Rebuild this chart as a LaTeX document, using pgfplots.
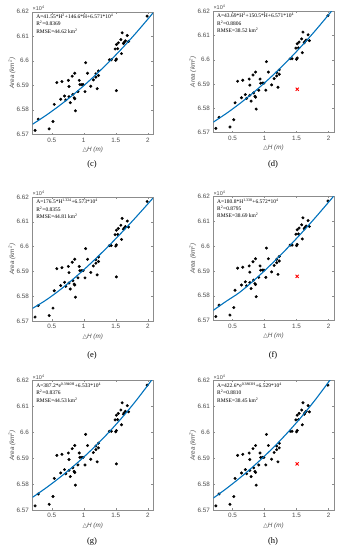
\documentclass[border=0pt]{standalone}
\usepackage{fontspec}
\setmainfont{Liberation Serif}
\setsansfont{Liberation Sans}
\newfontfamily\dejavu{DejaVu Sans}
\usepackage{pgfplots}
\pgfplotsset{compat=1.18}
\usepackage{pgfplotstable}

\pgfplotstableread{
x y
0.24 6.5716
0.29 6.5762
0.46 6.5722
0.52 6.5752
0.54 6.5822
0.58 6.5911
0.64 6.5843
0.66 6.5915
0.70 6.5856
0.72 6.5840
0.76 6.5920
0.77 6.5895
0.77 6.5853
0.79 6.5829
0.82 6.5937
0.83 6.5863
0.86 6.5949
0.85 6.5849
0.86 6.5845
0.87 6.5796
0.91 6.5874
0.93 6.5920
0.94 6.5903
0.97 6.5903
0.99 6.5903
1.02 6.5874
1.03 6.5992
1.06 6.5949
1.11 6.5896
1.15 6.5922
1.19 6.5947
1.19 6.5933
1.21 6.5886
1.23 6.5940
1.23 6.5958
1.40 6.6004
1.43 6.6004
1.49 6.6048
1.50 6.6002
1.51 6.6007
1.51 6.6066
1.53 6.6049
1.54 6.6073
1.58 6.6086
1.59 6.6029
1.60 6.6114
1.62 6.6070
1.63 6.6075
1.65 6.6081
1.68 6.6103
1.70 6.6079
1.99 6.6182
}\datatab
\pgfplotstableread{
x y
1.51 6.5878
}\outtab

% fitted curves, sampled
\pgfplotstableread{
x y
0.20 6.57410
0.40 6.57753
0.60 6.58129
0.80 6.58539
1.00 6.58982
1.20 6.59458
1.40 6.59967
1.60 6.60509
1.80 6.61085
2.00 6.61694
2.08 6.61947
}\curveC
\pgfplotstableread{
x y
0.20 6.57419
0.40 6.57772
0.60 6.58160
0.80 6.58584
1.00 6.59042
1.20 6.59535
1.40 6.60063
1.60 6.60627
1.80 6.61225
2.00 6.61858
2.08 6.62121
}\curveD
\pgfplotstableread{
x y
0.20 6.57510
0.40 6.57825
0.60 6.58197
0.80 6.58614
1.00 6.59065
1.20 6.59547
1.40 6.60056
1.60 6.60588
1.80 6.61144
2.00 6.61719
2.08 6.61954
}\curveE
\pgfplotstableread{
x y
0.20 6.57410
0.40 6.57773
0.60 6.58113
0.80 6.58541
1.00 6.59008
1.20 6.59508
1.40 6.60036
1.60 6.60591
1.80 6.61170
2.00 6.61771
2.08 6.62017
}\curveF
\pgfplotstableread{
x y
0.20 6.57490
0.40 6.57833
0.60 6.58205
0.80 6.58607
1.00 6.59042
1.20 6.59513
1.40 6.60022
1.60 6.60573
1.80 6.61169
2.00 6.61814
2.08 6.62087
}\curveG
\pgfplotstableread{
x y
0.20 6.57460
0.40 6.57820
0.60 6.58209
0.80 6.58629
1.00 6.59082
1.20 6.59570
1.40 6.60097
1.60 6.60666
1.80 6.61280
2.00 6.61942
2.08 6.62221
}\curveH

\definecolor{fitblue}{RGB}{0,114,189}
\definecolor{labgray}{gray}{0.3}
\definecolor{boxgray}{gray}{0.55}

\pgfplotsset{panel/.style={
  scale only axis, width=120.4pt,
  xmin=0.2, xmax=2.08, ymin=6.57, ymax=6.62,
  clip mode=individual,
  xtick={0.5,1,1.5,2}, ytick={6.57,6.58,6.59,6.60,6.61,6.62},
  tick align=inside, major tick length=1.8pt,
  axis line style={boxgray, line width=0.4pt},
  tick style={boxgray, line width=0.4pt},
  every tick label/.append style={font=\sffamily\fontsize{6.3}{7}\selectfont, text=labgray},
  /pgf/number format/assume math mode=true,
  yticklabel style={/pgf/number format/.cd, fixed, precision=2},
  scaled y ticks=false, scaled x ticks=false,
  xlabel={{\dejavu\fontsize{6}{7}\selectfont △}\textit{H (m)}},
  ylabel={\textit{Area (km\textsuperscript{2})}},
  every axis x label/.style={at={(rel axis cs:0.5,0)}, anchor=north, yshift=-9pt,
     font=\sffamily\fontsize{6.3}{7}\selectfont, text=labgray},
  every axis y label/.style={at={(rel axis cs:-0.17,0.5)}, rotate=90, anchor=center,
     font=\sffamily\fontsize{6.3}{7}\selectfont, text=labgray},
  anchor=south west,
}}

\newcommand{\xten}{\node[anchor=south west, inner sep=0, yshift=1.2pt, font=\sffamily\fontsize{5.5}{6}\selectfont, text=labgray] at (rel axis cs:0,1) {×10\textsuperscript{4}};}
\newcommand{\eqn}[3]{\node[anchor=north west, inner sep=0, align=left, font=\fontsize{5.5}{7.4}\selectfont] at (rel axis cs:0.03,0.985) {#1\\R\textsuperscript{2}=#2\\RMSE=#3 km\textsuperscript{2}};}

\begin{document}
\begin{tikzpicture}
\path (0pt,0pt) rectangle (345pt,-550pt);

% (c)
\begin{axis}[panel, height=122.6pt, at={(32.5pt,-134.3pt)}]
\addplot[only marks, mark=*, mark size=1.3pt, black] table {\datatab};
\addplot[only marks, mark=*, mark size=1.3pt, black] table {\outtab};
\addplot[fitblue, line width=1.1pt, smooth] table {\curveC};
\xten
\eqn{A=41.55*H\textsuperscript{2}+146.6*H+6.571*10\textsuperscript{4}}{0.8369}{44.62}
\end{axis}
\node[font=\fontsize{8.5}{10}\selectfont] at (92pt,-164pt) {(c)};

% (d)
\begin{axis}[panel, height=121pt, at={(213.3pt,-132.3pt)}]
\addplot[only marks, mark=*, mark size=1.3pt, black] table {\datatab};
\addplot[only marks, mark=x, mark size=2.2pt, red, line width=0.9pt] table {\outtab};
\addplot[fitblue, line width=1.1pt, smooth] table {\curveD};
\xten
\eqn{A=43.69*H\textsuperscript{2}+150.5*H+6.571*10\textsuperscript{4}}{0.8806}{38.52}
\end{axis}
\node[font=\fontsize{8.5}{10}\selectfont] at (273pt,-164pt) {(d)};

% (e)
\begin{axis}[panel, height=124pt, at={(32.5pt,-321pt)}]
\addplot[only marks, mark=*, mark size=1.3pt, black] table {\datatab};
\addplot[only marks, mark=*, mark size=1.3pt, black] table {\outtab};
\addplot[fitblue, line width=1.1pt, smooth] table {\curveE};
\xten
\eqn{A=176.5*H\textsuperscript{1.324}+6.573*10\textsuperscript{4}}{0.8355}{44.81}
\end{axis}
\node[font=\fontsize{8.5}{10}\selectfont] at (92pt,-355pt) {(e)};

% (f)
\begin{axis}[panel, height=124pt, at={(213.3pt,-320.5pt)}]
\addplot[only marks, mark=*, mark size=1.3pt, black] table {\datatab};
\addplot[only marks, mark=x, mark size=2.2pt, red, line width=0.9pt] table {\outtab};
\addplot[fitblue, line width=1.1pt, smooth] table {\curveF};
\xten
\eqn{A=180.8*H\textsuperscript{1.338}+6.572*10\textsuperscript{4}}{0.8795}{38.69}
\end{axis}
\node[font=\fontsize{8.5}{10}\selectfont] at (273pt,-355pt) {(f)};

% (g)
\begin{axis}[panel, height=129.5pt, at={(32.5pt,-510pt)}]
\addplot[only marks, mark=*, mark size=1.3pt, black] table {\datatab};
\addplot[only marks, mark=*, mark size=1.3pt, black] table {\outtab};
\addplot[fitblue, line width=1.1pt, smooth] table {\curveG};
\xten
\eqn{A=387.2*e\textsuperscript{0.3940H}+6.533*10\textsuperscript{4}}{0.8376}{44.53}
\end{axis}
\node[font=\fontsize{8.5}{10}\selectfont] at (92pt,-541pt) {(g)};

% (h)
\begin{axis}[panel, height=129.5pt, at={(213.3pt,-510pt)}]
\addplot[only marks, mark=*, mark size=1.3pt, black] table {\datatab};
\addplot[only marks, mark=x, mark size=2.2pt, red, line width=0.9pt] table {\outtab};
\addplot[fitblue, line width=1.1pt, smooth] table {\curveH};
\xten
\eqn{A=422.6*e\textsuperscript{0.3803H}+6.529*10\textsuperscript{4}}{0.8810}{38.45}
\end{axis}
\node[font=\fontsize{8.5}{10}\selectfont] at (273pt,-541pt) {(h)};
\end{tikzpicture}
\end{document}
